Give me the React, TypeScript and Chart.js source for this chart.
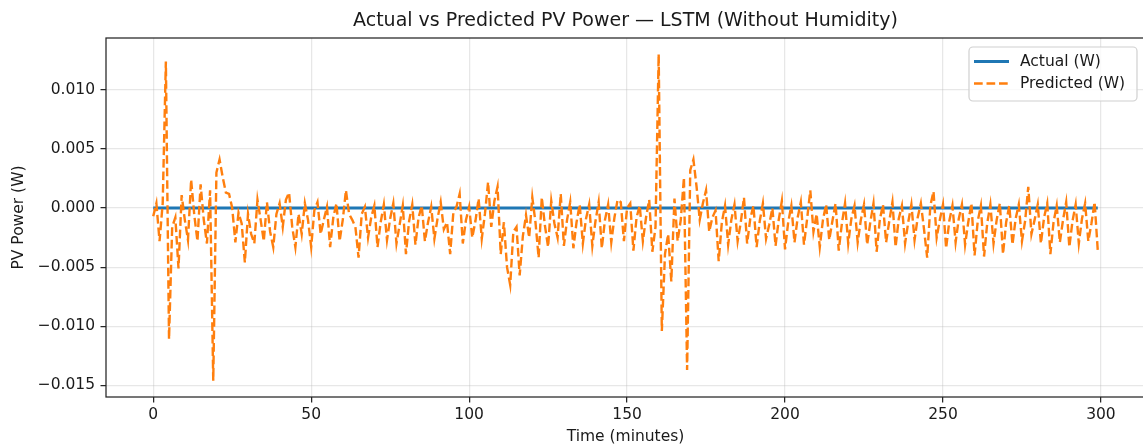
import React, { useEffect, useRef } from 'react';
import { Chart, registerables } from 'chart.js';

Chart.register(...registerables);

const TITLE = 'Actual vs Predicted PV Power — LSTM (Without Humidity)';
const X_LABEL = 'Time (minutes)';
const Y_LABEL = 'PV Power (W)';
const SERIES_NAMES = ['Actual (W)', 'Predicted (W)'];
const X_TICKS = [0, 50, 100, 150, 200, 250, 300];
const Y_TICKS = [-0.015, -0.01, -0.005, 0, 0.005, 0.01];
const X_MIN = -14.95;
const X_MAX = 313.95;
const Y_MIN = -0.01598;
const Y_MAX = 0.01438;

const predicted = [
  -0.0007, 0.0004, -0.0028, 0.0004, 0.0124, -0.0111, -0.0016, -0.0008, -0.0051, 0.0011,
  -0.0010, -0.0027, 0.0024, -0.0006, -0.0028, 0.0020, -0.0010, -0.0030, 0.0015, -0.0146,
  0.0030, 0.0041, 0.0026, 0.0013, 0.0012, 0.0000, -0.0029, -0.0004, -0.0013, -0.0046,
  -0.0005, -0.0022, -0.0030, 0.0007, -0.0010, -0.0028, 0.0005, -0.0020, -0.0033, -0.0005,
  0.0004, -0.0016, 0.0007, 0.0013, -0.0016, -0.0033, -0.0005, -0.0022, 0.0004, -0.0010,
  -0.0033, -0.0002, 0.0005, -0.0022, -0.0010, 0.0001, -0.0033, -0.0008, 0.0004, -0.0028,
  -0.0010, 0.0015, -0.0005, -0.0010, -0.0016, -0.0042, -0.0005, 0.0001, -0.0025, -0.0008,
  0.0002, -0.0033, -0.0012, 0.0003, -0.0027, -0.0009, 0.0004, -0.0030, -0.0014, 0.0002,
  -0.0039, -0.0011, 0.0003, -0.0031, -0.0008, 0.0002, -0.0028, -0.0012, 0.0001, -0.0026,
  -0.0009, 0.0005, -0.0018, -0.0012, -0.0039, -0.0004, 0.0001, 0.0012, -0.0030, -0.0010,
  0.0001, -0.0025, -0.0011, 0.0008, -0.0026, -0.0005, 0.0022, -0.0016, 0.0006, 0.0018,
  -0.0039, -0.0012, -0.0050, -0.0065, -0.0020, -0.0016, -0.0057, -0.0024, -0.0006, -0.0025,
  0.0009, -0.0012, -0.0042, 0.0009, -0.0015, -0.0033, 0.0006, -0.0013, -0.0025, 0.0012,
  -0.0032, -0.0010, 0.0005, -0.0034, -0.0012, 0.0003, -0.0030, -0.0009, 0.0003, -0.0032,
  -0.0011, 0.0005, -0.0034, -0.0010, 0.0003, -0.0029, -0.0008, 0.0007, 0.0005, -0.0028,
  0.0000, 0.0004, -0.0036, -0.0008, 0.0002, -0.0028, -0.0008, 0.0007, -0.0037, -0.0016,
  0.0130, -0.0104, -0.0039, -0.0022, -0.0062, 0.0008, -0.0028, -0.0010, 0.0026, -0.0137,
  0.0032, 0.0041, 0.0018, -0.0010, 0.0004, 0.0015, -0.0020, -0.0008, -0.0002, -0.0045,
  -0.0012, 0.0002, -0.0031, -0.0010, 0.0003, -0.0028, -0.0012, 0.0009, -0.0030, -0.0009,
  0.0002, -0.0033, -0.0011, 0.0004, -0.0026, -0.0014, 0.0000, -0.0032, -0.0010, 0.0006,
  -0.0035, -0.0012, 0.0002, -0.0029, -0.0008, 0.0005, -0.0031, -0.0009, 0.0015, -0.0020,
  -0.0005, -0.0033, -0.0010, 0.0003, -0.0027, -0.0011, 0.0004, -0.0036, -0.0013, 0.0004,
  -0.0030, -0.0009, 0.0002, -0.0029, -0.0010, 0.0003, -0.0031, -0.0012, 0.0004, -0.0037,
  -0.0010, 0.0003, -0.0029, -0.0011, 0.0005, -0.0033, -0.0009, 0.0002, -0.0030, -0.0012,
  0.0003, -0.0027, -0.0008, 0.0004, -0.0018, -0.0042, 0.0002, 0.0014, -0.0025, -0.0010,
  0.0003, -0.0034, -0.0011, 0.0002, -0.0029, -0.0009, 0.0003, -0.0031, -0.0012, 0.0004,
  -0.0040, -0.0011, 0.0002, -0.0041, -0.0013, 0.0003, -0.0030, -0.0010, 0.0004, -0.0039,
  -0.0012, 0.0002, -0.0031, -0.0009, 0.0003, -0.0028, -0.0011, 0.0018, -0.0022, -0.0010,
  0.0003, -0.0030, -0.0008, 0.0004, -0.0039, -0.0012, 0.0002, -0.0029, -0.0010, 0.0005,
  -0.0033, -0.0011, 0.0003, -0.0030, -0.0009, 0.0004, -0.0028, -0.0013, 0.0005, -0.0036,
];
const minutes = predicted.map((_, i) => i);
const actual = predicted.map(() => 0);

const BLUE = '#1f77b4';
const ORANGE = '#ff7f0e';
const TEXT = '#1a1a1a';
const SPINE = '#262626';
const FONT = '"DejaVu Sans", sans-serif';

const decor = {
  id: 'decor',
  afterDraw(chart: any) {
    const { ctx, chartArea: a } = chart;
    ctx.save();
    // frame
    ctx.strokeStyle = SPINE;
    ctx.lineWidth = 1.25;
    ctx.strokeRect(a.left, a.top, a.right - a.left, a.bottom - a.top);
    // title & axis labels
    ctx.fillStyle = TEXT;
    ctx.textAlign = 'center';
    ctx.textBaseline = 'middle';
    ctx.font = `19px ${FONT}`;
    ctx.fillText(TITLE, (a.left + a.right) / 2, 21);
    ctx.font = `15.5px ${FONT}`;
    ctx.fillText(X_LABEL, (a.left + a.right) / 2, 437);
    ctx.save();
    ctx.translate(19, (a.top + a.bottom) / 2);
    ctx.rotate(-Math.PI / 2);
    ctx.fillText(Y_LABEL, 0, 0);
    ctx.restore();
    // legend
    const bx = a.right - 176;
    const by = a.top + 9;
    const bw = 168;
    const bh = 54;
    ctx.beginPath();
    ctx.roundRect(bx, by, bw, bh, 4);
    ctx.fillStyle = 'rgba(255,255,255,0.8)';
    ctx.fill();
    ctx.strokeStyle = '#d0d0d0';
    ctx.lineWidth = 1.2;
    ctx.stroke();
    const rows = [by + 14.5, by + 36.5];
    const colors = [BLUE, ORANGE];
    const widths = [3.1, 2.4];
    const dashes = [[], [8.7, 3.8]];
    for (let i = 0; i < 2; i++) {
      ctx.beginPath();
      ctx.strokeStyle = colors[i];
      ctx.lineWidth = widths[i];
      ctx.setLineDash(dashes[i]);
      ctx.moveTo(bx + 5, rows[i]);
      ctx.lineTo(bx + 40, rows[i]);
      ctx.stroke();
      ctx.setLineDash([]);
      ctx.fillStyle = TEXT;
      ctx.textAlign = 'left';
      ctx.font = `15.5px ${FONT}`;
      ctx.fillText(SERIES_NAMES[i], bx + 51, rows[i] + 0.5);
    }
    ctx.restore();
  },
};

export default function App() {
  const ref = useRef<HTMLCanvasElement>(null);
  useEffect(() => {
    if (!ref.current) return;
    const gridCommon = {
      color: 'rgba(176,176,176,0.3)',
      lineWidth: 1.25,
      drawTicks: true,
      tickLength: 5.5,
      tickColor: SPINE,
      tickWidth: 1.25,
    };
    const chart = new Chart(ref.current, {
      type: 'line',
      data: {
        datasets: [
          {
            label: SERIES_NAMES[0],
            data: minutes.map((m, i) => ({ x: m, y: actual[i] })),
            borderColor: BLUE,
            borderWidth: 3.1,
            pointRadius: 0,
            tension: 0,
            order: 1,
          },
          {
            label: SERIES_NAMES[1],
            data: minutes.map((m, i) => ({ x: m, y: predicted[i] })),
            borderColor: ORANGE,
            borderWidth: 2.4,
            borderDash: [8.7, 3.8],
            pointRadius: 0,
            tension: 0,
            order: 0,
          },
        ],
      },
      options: {
        responsive: false,
        animation: false,
        events: [],
        layout: { padding: { top: 38, right: 5, left: 0, bottom: 0 } },
        plugins: { legend: { display: false }, title: { display: false }, tooltip: { enabled: false } },
        scales: {
          x: {
            type: 'linear',
            min: X_MIN,
            max: X_MAX,
            grid: gridCommon,
            border: { display: false },
            afterBuildTicks: (s: any) => {
              s.ticks = X_TICKS.map((v) => ({ value: v }));
            },
            afterFit: (s: any) => {
              s.height = 49;
            },
            ticks: {
              autoSkip: false,
              maxRotation: 0,
              padding: 3,
              color: TEXT,
              font: { family: FONT, size: 15.5 },
              callback: (v: any) => String(v),
            },
          },
          y: {
            type: 'linear',
            min: Y_MIN,
            max: Y_MAX,
            grid: gridCommon,
            border: { display: false },
            afterBuildTicks: (s: any) => {
              s.ticks = Y_TICKS.map((v) => ({ value: v }));
            },
            afterFit: (s: any) => {
              s.width = 106;
            },
            ticks: {
              autoSkip: false,
              padding: 5.5,
              color: TEXT,
              font: { family: FONT, size: 15.5 },
              callback: (v: any) => Number(v).toFixed(3).replace('-', '\u2212'),
            },
          },
        },
      },
      plugins: [decor],
    });
    return () => chart.destroy();
  }, []);
  return (
    <div
      style={{
        position: 'fixed',
        left: 0,
        top: 0,
        width: 1143,
        height: 446,
        overflow: 'hidden',
        background: '#fff',
      }}
    >
      <canvas ref={ref} width={1150} height={446} style={{ width: 1150, height: 446, display: 'block' }} />
    </div>
  );
}
